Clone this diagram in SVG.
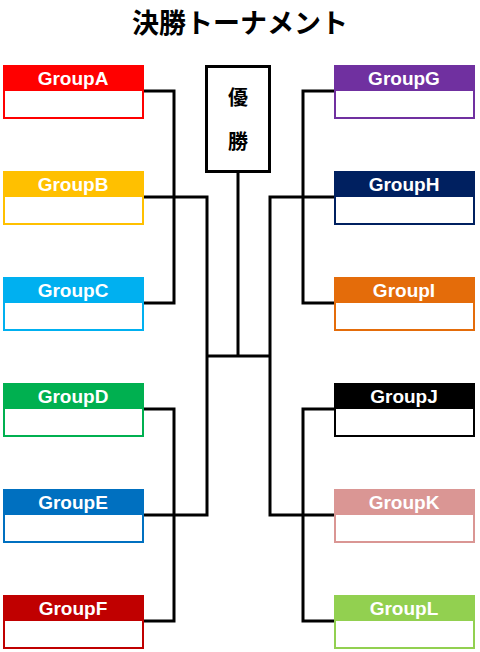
<svg xmlns="http://www.w3.org/2000/svg" width="480" height="652" viewBox="0 0 480 652">
<style>
.frame{fill:#fff;stroke-width:2}
.gl{font-family:"Liberation Sans",Arial,sans-serif;font-weight:bold;font-size:19px;fill:#fff;text-anchor:middle}
.ln{fill:none;stroke:#000;stroke-width:3}
.jp{font-family:"Noto Sans CJK JP","Noto Sans CJK SC",sans-serif;font-weight:bold;fill:#000;text-anchor:middle}
</style>
<rect width="480" height="652" fill="#fff"/>
<text class="jp" x="240" y="33" font-size="27">決勝トーナメント</text>
<g id="connectors">
<path class="ln" d="M143,91 H174 V303 H143"/>
<path class="ln" d="M143,197 H207 V515 H143"/>
<path class="ln" d="M143,409 H174 V621 H143"/>
<path class="ln" d="M207,356 H270"/>
<path class="ln" d="M238,172 V356"/>
<path class="ln" d="M334,91 H303 V303 H334"/>
<path class="ln" d="M334,197 H270 V515 H334"/>
<path class="ln" d="M334,409 H303 V621 H334"/>
</g>
<g id="winner">
<rect x="206.5" y="66.5" width="63" height="105" fill="#fff" stroke="#000" stroke-width="3"/>
<text class="jp" x="238" y="105" font-size="20">優</text>
<text class="jp" x="238" y="149" font-size="20">勝</text>
</g>
<g id="groupA"><rect class="frame" x="4" y="66" width="139" height="52" stroke="#FF0000"/><rect x="3" y="65" width="141" height="26" fill="#FF0000"/><text class="gl" x="73" y="85">GroupA</text></g>
<g id="groupB"><rect class="frame" x="4" y="172" width="139" height="52" stroke="#FFC000"/><rect x="3" y="171" width="141" height="26" fill="#FFC000"/><text class="gl" x="73" y="191">GroupB</text></g>
<g id="groupC"><rect class="frame" x="4" y="278" width="139" height="52" stroke="#00B0F0"/><rect x="3" y="277" width="141" height="26" fill="#00B0F0"/><text class="gl" x="73" y="297">GroupC</text></g>
<g id="groupD"><rect class="frame" x="4" y="384" width="139" height="52" stroke="#00B050"/><rect x="3" y="383" width="141" height="26" fill="#00B050"/><text class="gl" x="73" y="403">GroupD</text></g>
<g id="groupE"><rect class="frame" x="4" y="490" width="139" height="52" stroke="#0070C0"/><rect x="3" y="489" width="141" height="26" fill="#0070C0"/><text class="gl" x="73" y="509">GroupE</text></g>
<g id="groupF"><rect class="frame" x="4" y="596" width="139" height="52" stroke="#C00000"/><rect x="3" y="595" width="141" height="26" fill="#C00000"/><text class="gl" x="73" y="615">GroupF</text></g>
<g id="groupG"><rect class="frame" x="335" y="66" width="139" height="52" stroke="#7030A0"/><rect x="334" y="65" width="141" height="26" fill="#7030A0"/><text class="gl" x="404" y="85">GroupG</text></g>
<g id="groupH"><rect class="frame" x="335" y="172" width="139" height="52" stroke="#002060"/><rect x="334" y="171" width="141" height="26" fill="#002060"/><text class="gl" x="404" y="191">GroupH</text></g>
<g id="groupI"><rect class="frame" x="335" y="278" width="139" height="52" stroke="#E46C0A"/><rect x="334" y="277" width="141" height="26" fill="#E46C0A"/><text class="gl" x="404" y="297">GroupI</text></g>
<g id="groupJ"><rect class="frame" x="335" y="384" width="139" height="52" stroke="#000000"/><rect x="334" y="383" width="141" height="26" fill="#000000"/><text class="gl" x="404" y="403">GroupJ</text></g>
<g id="groupK"><rect class="frame" x="335" y="490" width="139" height="52" stroke="#DA9694"/><rect x="334" y="489" width="141" height="26" fill="#DA9694"/><text class="gl" x="404" y="509">GroupK</text></g>
<g id="groupL"><rect class="frame" x="335" y="596" width="139" height="52" stroke="#92D050"/><rect x="334" y="595" width="141" height="26" fill="#92D050"/><text class="gl" x="404" y="615">GroupL</text></g>
</svg>
